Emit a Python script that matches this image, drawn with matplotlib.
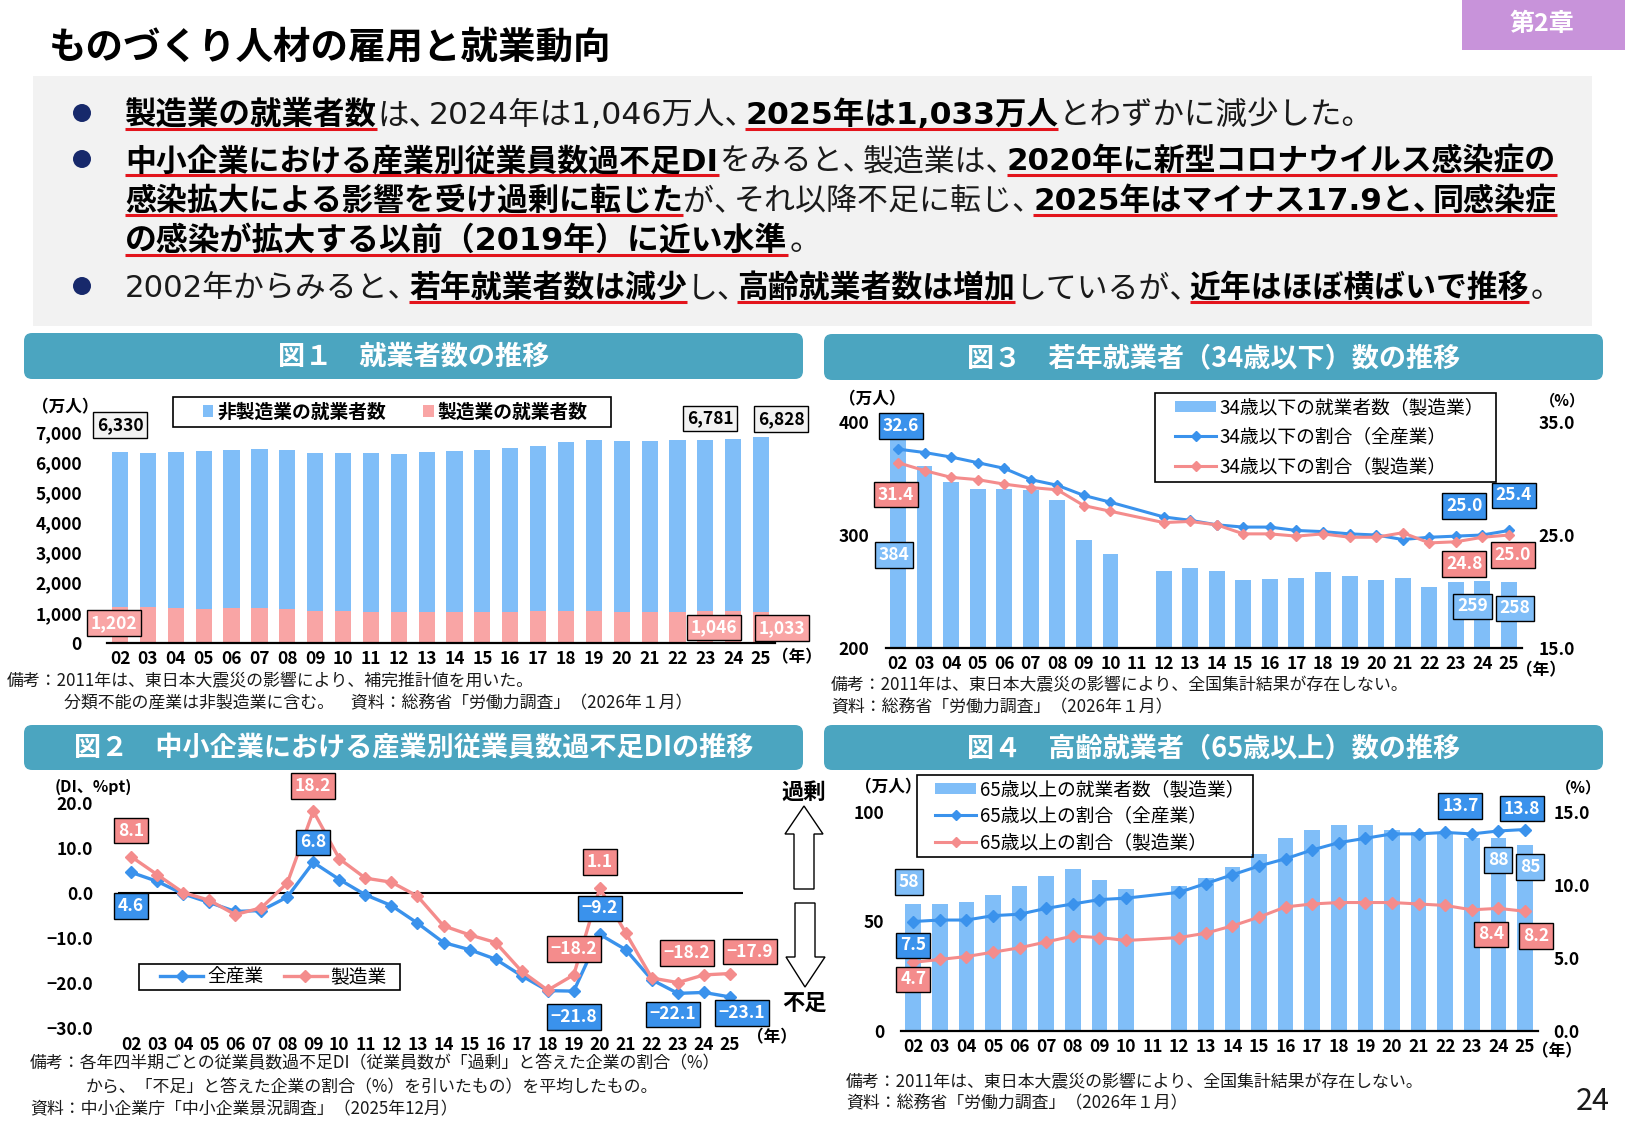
import matplotlib
matplotlib.use("Agg")
import matplotlib.pyplot as plt
import numpy as np
from matplotlib.patches import FancyBboxPatch, Rectangle, Polygon, Patch, Circle
from matplotlib.lines import Line2D
from matplotlib.transforms import IdentityTransform

plt.rcParams["font.family"] = ["Noto Sans CJK JP", "DejaVu Sans"]

W, H = 1625, 1125
DPI = 100
PX = IdentityTransform()

# colours
TEAL = "#4BA5C0"
PURPLE = "#C893DA"
PANEL_GREY = "#F2F2F2"
NAVY = "#17296B"
RED_LINE = "#E3141C"
BAR_BLUE = "#80BEF8"
BAR_PINK = "#F9A5A5"
LINE_BLUE = "#3A92EC"
LINE_PINK = "#F48C8C"
TXT = "#1A1A1A"

# ── data ──
YEARS = ["02", "03", "04", "05", "06", "07", "08", "09", "10", "11", "12", "13",
         "14", "15", "16", "17", "18", "19", "20", "21", "22", "23", "24", "25"]

# fig1: employed persons (万人)
TOTAL_EMP = [6330, 6316, 6329, 6356, 6389, 6427, 6409, 6314, 6298, 6293, 6280, 6326,
             6371, 6401, 6465, 6530, 6664, 6750, 6710, 6713, 6723, 6747, 6781, 6828]
MFG_EMP = [1202, 1178, 1150, 1142, 1161, 1165, 1144, 1073, 1049, 1037, 1032, 1039,
           1040, 1035, 1045, 1052, 1060, 1063, 1045, 1037, 1044, 1055, 1046, 1033]

# fig2: DI (%pt)
DI_ALL = [4.6, 2.6, -0.2, -2.1, -4.1, -3.9, -0.9, 6.8, 3.0, -0.4, -2.8, -6.7,
          -11.0, -12.6, -14.7, -18.4, -21.7, -21.8, -9.2, -12.6, -19.3, -22.3, -22.1, -23.1]
DI_MFG = [8.1, 4.1, 0.1, -1.6, -4.8, -3.3, 2.2, 18.2, 7.6, 3.3, 2.4, -0.7,
          -7.3, -9.3, -11.0, -17.4, -21.6, -18.2, 1.1, -8.9, -18.9, -19.9, -18.2, -17.9]

# fig3: under 34 (2011 missing)
YOUNG_MFG = [384, 361, 347, 341, 341, 340, 331, 296, 283, np.nan, 268, 271,
             268, 260, 261, 262, 267, 264, 260, 262, 254, 258, 259, 258]
YOUNG_SHARE_ALL = [32.6, 32.3, 31.9, 31.4, 30.9, 29.9, 29.4, 28.5, 27.9, np.nan, 26.6, 26.3,
                   25.9, 25.7, 25.7, 25.4, 25.3, 25.1, 25.0, 24.6, 24.8, 24.9, 25.0, 25.4]
YOUNG_SHARE_MFG = [31.4, 30.7, 30.1, 29.9, 29.5, 29.2, 29.0, 27.6, 27.1, np.nan, 26.1, 26.2,
                   25.9, 25.1, 25.1, 24.9, 25.1, 24.8, 24.8, 25.2, 24.3, 24.4, 24.8, 25.0]

# fig4: 65 and over (2011 missing)
OLD_MFG = [58, 58, 59, 62, 66, 71, 74, 69, 65, np.nan, 66, 70,
           75, 81, 88, 92, 94, 94, 92, 91, 90, 88, 88, 85]
OLD_SHARE_ALL = [7.5, 7.6, 7.6, 7.9, 8.0, 8.4, 8.7, 9.0, 9.1, np.nan, 9.5, 10.1,
                 10.7, 11.3, 11.8, 12.4, 12.9, 13.2, 13.5, 13.5, 13.6, 13.5, 13.7, 13.8]
OLD_SHARE_MFG = [4.7, 4.9, 5.1, 5.4, 5.7, 6.1, 6.5, 6.4, 6.2, np.nan, 6.4, 6.7,
                 7.2, 7.8, 8.5, 8.7, 8.8, 8.8, 8.8, 8.7, 8.6, 8.3, 8.4, 8.2]

# (baseline px, bullet?, right end px, segments (text, bold))
BULLETS = [
    (124, True, 1362, [("製造業の就業者数", 1), ("は、2024年は1,046万人、", 0),
                       ("2025年は1,033万人", 1), ("とわずかに減少した。", 0)]),
    (170, True, 1557, [("中小企業における産業別従業員数過不足DI", 1), ("をみると、製造業は、", 0),
                       ("2020年に新型コロナウイルス感染症の", 1)]),
    (210, False, 1557, [("感染拡大による影響を受け過剰に転じた", 1), ("が、それ以降不足に転じ、", 0),
                        ("2025年はマイナス17.9と、同感染症", 1)]),
    (250, False, 808, [("の感染が拡大する以前（2019年）に近い水準", 1), ("。", 0)]),
    (297, True, 1549, [("2002年からみると、", 0), ("若年就業者数は減少", 1), ("し、", 0),
                       ("高齢就業者数は増加", 1), ("しているが、", 0),
                       ("近年はほぼ横ばいで推移", 1), ("。", 0)]),
]

fig = plt.figure(figsize=(W / DPI, H / DPI), dpi=DPI)
fig.patch.set_facecolor("white")
renderer = fig.canvas.get_renderer()


def add_ax(x0, y0, x1, y1):
    return fig.add_axes([x0 / W, 1 - y1 / H, (x1 - x0) / W, (y1 - y0) / H])


def ftext(x, y, s, **kw):
    return fig.text(x / W, 1 - y / H, s, **kw)


def rect_px(x0, y0, x1, y1, **kw):
    fig.add_artist(Rectangle((x0, H - y1), x1 - x0, y1 - y0, transform=PX, **kw))


def header(x0, y0, x1, y1, title):
    fig.add_artist(FancyBboxPatch((x0, H - y1), x1 - x0, y1 - y0,
                                  boxstyle="round,pad=0,rounding_size=8",
                                  transform=PX, fc=TEAL, ec="none"))
    ftext((x0 + x1) / 2, (y0 + y1) / 2 + 1, title, ha="center", va="center",
          fontsize=19.5, fontweight="bold", color="white")


def vlabel(ax, i, v, s, dx, dy, fc, tc="white", src=None):
    # dx, dy: pixel offset of the box centre from the data point (dy downwards)
    ax.annotate(s, (i, v), xycoords=(src or ax).transData,
                xytext=(dx * 0.72, -dy * 0.72), textcoords="offset points",
                ha="center", va="center", fontsize=12.5, fontweight="bold", color=tc,
                bbox=dict(boxstyle="square,pad=0.22", fc=fc, ec="black", lw=1.0),
                zorder=20, annotation_clip=False)


def style_ax(ax, bottom=True):
    for sp in ["top", "right", "left"]:
        ax.spines[sp].set_visible(False)
    ax.spines["bottom"].set_visible(bottom)
    ax.spines["bottom"].set_color("black")
    ax.spines["bottom"].set_linewidth(1.6)
    ax.set_facecolor("none")


def tick_fmt(ax, xpad, ypad):
    ax.set_xticks(np.arange(len(YEARS)))
    ax.set_xticklabels(YEARS, fontsize=12.5, fontweight="bold")
    ax.tick_params(axis="x", length=0, pad=xpad)
    ax.tick_params(axis="y", length=0, pad=ypad, labelsize=12.5)
    for t in ax.get_yticklabels():
        t.set_fontweight("bold")


def boxed_legend(ax, handles, labels, box, x_left, y_mid, **kw):
    # frame drawn separately so its size can follow the reference box
    rect_px(*box, fc="none", ec="black", lw=1.2)
    leg = ax.legend(handles, labels, loc="center left",
                    bbox_to_anchor=(x_left / W, 1 - y_mid / H),
                    bbox_transform=fig.transFigure, frameon=False,
                    borderpad=0, borderaxespad=0, **kw)
    return leg


# ── page heading ──
ftext(49, 47, "ものづくり人材の雇用と就業動向", ha="left", va="center",
      fontsize=27, fontweight="bold", color="black")
rect_px(1462, 0, 1625, 50, fc=PURPLE, ec="none")
ftext(1542, 24, "第2章", ha="center", va="center", fontsize=18, fontweight="bold", color="white")

# ── summary panel ──
rect_px(33, 76, 1592, 326, fc=PANEL_GREY, ec="none")

BODY_FAMILY = ["DejaVu Sans", "Noto Sans CJK JP"]
FS_BODY = 23
EM0 = FS_BODY * DPI / 72
PUNCT = "、。"
PUNCT_ADV = 0.64
_w = {}


def text_w(s, bold):
    key = (s, bold)
    if key not in _w:
        t = fig.text(0, 0, s, fontsize=FS_BODY, fontweight="bold" if bold else "normal",
                     family=BODY_FAMILY)
        _w[key] = t.get_window_extent(renderer).width
        t.remove()
    return _w[key]


def split_runs(s):
    # each run keeps its trailing punctuation, which is set narrower than full width
    runs, cur = [], ""
    for c in s:
        cur += c
        if c in PUNCT:
            runs.append(cur)
            cur = ""
    if cur:
        runs.append(cur)
    return runs


def run_metrics(r, bold):
    # advance width and left side bearing of a run, found with "国" as a reference glyph
    core = r.rstrip(PUNCT)
    n_p = len(r) - len(core)
    if not core:
        return n_p * PUNCT_ADV * EM0, 0.05 * EM0
    g = text_w("国", bold)
    adv_g = text_w("国国", bold) - g
    l0 = (adv_g - g) / 2
    adv = text_w("国" + core + "国", bold) - text_w("国国", bold)
    rsb = adv_g + adv - l0 - text_w("国" + core, bold)
    lsb = adv - text_w(core, bold) - rsb
    return adv + n_p * PUNCT_ADV * EM0, lsb


for base, dot, right, segs in BULLETS:
    if dot:
        fig.add_artist(Circle((82, H - (base - 11)), 9, transform=PX, fc=NAVY, ec="none"))
    natural = sum(run_metrics(r, b)[0] for s, b in segs for r in split_runs(s))
    k = min(max((right - 125) / natural, 0.93), 1.05)
    fs = FS_BODY * k
    x = 125
    for s, bold in segs:
        x0 = x
        for r in split_runs(s):
            adv, lsb = run_metrics(r, bold)
            ftext(x + lsb * k, base, r, ha="left", va="baseline", fontsize=fs,
                  fontweight="bold" if bold else "normal", family=BODY_FAMILY,
                  color="black" if bold else TXT)
            x += adv * k
        if bold:
            uy = H - (base + 0.17 * EM0 * k)
            fig.add_artist(Line2D([x0, x], [uy, uy], transform=PX,
                                  color=RED_LINE, lw=2.2, solid_capstyle="butt"))

# ── panel headers ──
header(24, 333, 803, 379, "図１　就業者数の推移")
header(824, 334, 1603, 380, "図３　若年就業者（34歳以下）数の推移")
header(24, 725, 803, 770, "図２　中小企業における産業別従業員数過不足DIの推移")
header(824, 725, 1603, 770, "図４　高齢就業者（65歳以上）数の推移")

xs = np.arange(len(YEARS))

# ── Fig 1 ──
ax1 = add_ax(107, 432, 775, 643)
non_mfg = np.array(TOTAL_EMP) - np.array(MFG_EMP)
ax1.bar(xs, MFG_EMP, 0.58, color=BAR_PINK, zorder=2)
ax1.bar(xs, non_mfg, 0.58, bottom=MFG_EMP, color=BAR_BLUE, zorder=2)
ax1.set_xlim(-0.47, 23.5)
ax1.set_ylim(0, 7000)
yt = list(range(0, 7001, 1000))
ax1.set_yticks(yt)
ax1.set_yticklabels([f"{v:,}" for v in yt])
style_ax(ax1)
tick_fmt(ax1, 5, 18)
boxed_legend(ax1, [Patch(fc=BAR_BLUE), Patch(fc=BAR_PINK)],
             ["非製造業の就業者数", "製造業の就業者数"], (173, 397, 611, 427), 203, 412,
             ncol=2, handlelength=0.55, handleheight=0.55, handletextpad=0.2,
             columnspacing=2.0, prop={"weight": "bold", "size": 13.5})
vlabel(ax1, 0, TOTAL_EMP[0], f"{TOTAL_EMP[0]:,}", 0, -27, "#F2F2F2", "black")
vlabel(ax1, 22, TOTAL_EMP[22], f"{TOTAL_EMP[22]:,}", -23, -20, "#F2F2F2", "black")
vlabel(ax1, 23, TOTAL_EMP[23], f"{TOTAL_EMP[23]:,}", 20, -18, "#F2F2F2", "black")
vlabel(ax1, 0, MFG_EMP[0], f"{MFG_EMP[0]:,}", -6, 16, BAR_PINK)
vlabel(ax1, 22, MFG_EMP[22], f"{MFG_EMP[22]:,}", -19, 16, BAR_PINK)
vlabel(ax1, 23, MFG_EMP[23], f"{MFG_EMP[23]:,}", 21, 16, BAR_PINK)
ftext(65, 407, "（万人）", ha="center", va="center", fontsize=12, fontweight="bold")
ftext(797, 657, "（年）", ha="center", va="center", fontsize=12, fontweight="bold")
ftext(7, 681, "備考：2011年は、東日本大震災の影響により、補完推計値を用いた。",
      ha="left", va="center", fontsize=12.2, color=TXT)
ftext(64, 703, "分類不能の産業は非製造業に含む。　資料：総務省「労働力調査」（2026年１月）",
      ha="left", va="center", fontsize=12.2, color=TXT)

# ── Fig 3 ──
ax3 = add_ax(886, 422, 1522, 648)
y_m = np.array(YOUNG_MFG)
ok = ~np.isnan(y_m)
ax3.bar(xs[ok], y_m[ok], 0.6, color=BAR_BLUE, zorder=2)
ax3.set_xlim(-0.45, 23.49)
ax3.set_ylim(200, 400)
ax3.set_yticks([200, 300, 400])
style_ax(ax3)
tick_fmt(ax3, 5, 12)
ax3b = ax3.twinx()
for sp in ax3b.spines.values():
    sp.set_visible(False)
ax3b.set_ylim(15, 35)
ax3b.set_yticks([15, 25, 35])
ax3b.set_yticklabels(["15.0", "25.0", "35.0"], fontsize=12.5, fontweight="bold")
ax3b.tick_params(axis="y", length=0, pad=12)
for arr, col in [(YOUNG_SHARE_ALL, LINE_BLUE), (YOUNG_SHARE_MFG, LINE_PINK)]:
    a = np.array(arr)
    m = ~np.isnan(a)
    ax3b.plot(xs[m], a[m], color=col, lw=2.2, marker="D", ms=5.5, zorder=5)
boxed_legend(ax3b, [Patch(fc=BAR_BLUE),
                    Line2D([], [], color=LINE_BLUE, lw=2.2, marker="D", ms=5.5),
                    Line2D([], [], color=LINE_PINK, lw=2.2, marker="D", ms=5.5)],
             ["34歳以下の就業者数（製造業）", "34歳以下の割合（全産業）", "34歳以下の割合（製造業）"],
             (1155, 393, 1496, 482), 1175, 437,
             handlelength=2.2, handleheight=0.55, handletextpad=0.15,
             labelspacing=0.45, prop={"size": 13.5})
vlabel(ax3b, 0, YOUNG_SHARE_ALL[0], f"{YOUNG_SHARE_ALL[0]:.1f}", 3, -23, LINE_BLUE)
vlabel(ax3b, 0, YOUNG_SHARE_MFG[0], f"{YOUNG_SHARE_MFG[0]:.1f}", -2, 32, LINE_PINK)
vlabel(ax3b, 0, YOUNG_MFG[0], f"{YOUNG_MFG[0]:.0f}", -4, 115, BAR_BLUE, src=ax3)
vlabel(ax3b, 22, YOUNG_SHARE_ALL[22], f"{YOUNG_SHARE_ALL[22]:.1f}", -18, -29, LINE_BLUE)
vlabel(ax3b, 23, YOUNG_SHARE_ALL[23], f"{YOUNG_SHARE_ALL[23]:.1f}", 5, -35, LINE_BLUE)
vlabel(ax3b, 22, YOUNG_SHARE_MFG[22], f"{YOUNG_SHARE_MFG[22]:.1f}", -18, 27, LINE_PINK)
vlabel(ax3b, 23, YOUNG_SHARE_MFG[23], f"{YOUNG_SHARE_MFG[23]:.1f}", 4, 20, LINE_PINK)
vlabel(ax3b, 22, YOUNG_MFG[22], f"{YOUNG_MFG[22]:.0f}", -10, 25, BAR_BLUE, src=ax3)
vlabel(ax3b, 23, YOUNG_MFG[23], f"{YOUNG_MFG[23]:.0f}", 6, 26, BAR_BLUE, src=ax3)
ftext(872, 399, "（万人）", ha="center", va="center", fontsize=12, fontweight="bold")
ftext(1563, 400, "（%）", ha="center", va="center", fontsize=11, fontweight="bold")
ftext(1541, 670, "（年）", ha="center", va="center", fontsize=12, fontweight="bold")
ftext(831, 685, "備考：2011年は、東日本大震災の影響により、全国集計結果が存在しない。",
      ha="left", va="center", fontsize=12.2, color=TXT)
ftext(831, 707, "資料：総務省「労働力調査」（2026年１月）",
      ha="left", va="center", fontsize=12.2, color=TXT)

# ── Fig 2 ──
ax2 = add_ax(118, 803, 743, 1028)
ax2.set_xlim(-0.5, 23.5)
ax2.set_ylim(-30, 20)
ax2.set_yticks([-30, -20, -10, 0, 10, 20])
ax2.set_yticklabels([f"{v:.1f}".replace("-", "\u2212") for v in [-30, -20, -10, 0, 10, 20]])
style_ax(ax2, bottom=False)
tick_fmt(ax2, 6, 18)
ax2.axhline(0, color="black", lw=1.5, zorder=1)
ax2.plot(xs, DI_ALL, color=LINE_BLUE, lw=2.4, marker="D", ms=6.5, zorder=3)
ax2.plot(xs, DI_MFG, color=LINE_PINK, lw=2.4, marker="D", ms=6.0, zorder=4)
boxed_legend(ax2, [Line2D([], [], color=LINE_BLUE, lw=2.4, marker="D", ms=6.5),
                   Line2D([], [], color=LINE_PINK, lw=2.4, marker="D", ms=6.0)],
             ["全産業", "製造業"], (139, 964, 400, 990), 160, 977,
             ncol=2, handlelength=2.3, handletextpad=0.2, columnspacing=1.1,
             prop={"size": 13.5})
di_lab = lambda v: f"{v:.1f}".replace("-", "\u2212")
vlabel(ax2, 0, DI_MFG[0], di_lab(DI_MFG[0]), 0, -26, LINE_PINK)
vlabel(ax2, 0, DI_ALL[0], di_lab(DI_ALL[0]), 0, 34, LINE_BLUE)
vlabel(ax2, 7, DI_MFG[7], di_lab(DI_MFG[7]), 0, -25, LINE_PINK)
vlabel(ax2, 7, DI_ALL[7], di_lab(DI_ALL[7]), 0, -20, LINE_BLUE)
vlabel(ax2, 18, DI_MFG[18], di_lab(DI_MFG[18]), 0, -26, LINE_PINK)
vlabel(ax2, 18, DI_ALL[18], di_lab(DI_ALL[18]), 0, -26, LINE_BLUE)
vlabel(ax2, 17, DI_MFG[17], di_lab(DI_MFG[17]), 0, -26, LINE_PINK)
vlabel(ax2, 17, DI_ALL[17], di_lab(DI_ALL[17]), 0, 26, LINE_BLUE)
vlabel(ax2, 22, DI_MFG[22], di_lab(DI_MFG[22]), -17, -22, LINE_PINK)
vlabel(ax2, 23, DI_MFG[23], di_lab(DI_MFG[23]), 20, -22, LINE_PINK)
vlabel(ax2, 22, DI_ALL[22], di_lab(DI_ALL[22]), -31, 22, LINE_BLUE)
vlabel(ax2, 23, DI_ALL[23], di_lab(DI_ALL[23]), 12, 16, LINE_BLUE)
ftext(55, 787, "(DI、%pt)", ha="left", va="center", fontsize=11.5, fontweight="bold")
ftext(772, 1037, "（年）", ha="center", va="center", fontsize=12, fontweight="bold")
# surplus / shortage arrows
up = [(804, 806), (823, 834), (814, 834), (814, 889), (794, 889), (794, 834), (785, 834)]
dn = [(795, 903), (815, 903), (815, 957), (825, 957), (805, 987), (786, 957), (795, 957)]
for pts in (up, dn):
    fig.add_artist(Polygon([(px, H - py) for px, py in pts], closed=True, transform=PX,
                           fc="white", ec="black", lw=1.0))
ftext(804, 792, "過剰", ha="center", va="center", fontsize=16, fontweight="bold")
ftext(804, 1003, "不足", ha="center", va="center", fontsize=16, fontweight="bold")
ftext(30, 1063, "備考：各年四半期ごとの従業員数過不足DI（従業員数が「過剰」と答えた企業の割合（%）",
      ha="left", va="center", fontsize=12.2, color=TXT)
ftext(86, 1087, "から、「不足」と答えた企業の割合（%）を引いたもの）を平均したもの。",
      ha="left", va="center", fontsize=12.2, color=TXT)
ftext(30, 1109, "資料：中小企業庁「中小企業景況調査」（2025年12月）",
      ha="left", va="center", fontsize=12.2, color=TXT)

# ── Fig 4 ──
ax4 = add_ax(901, 812, 1538, 1031)
o_m = np.array(OLD_MFG)
ok = ~np.isnan(o_m)
ax4.bar(xs[ok], o_m[ok], 0.59, color=BAR_BLUE, zorder=2)
ax4.set_xlim(-0.46, 23.49)
ax4.set_ylim(0, 100)
ax4.set_yticks([0, 50, 100])
style_ax(ax4)
tick_fmt(ax4, 5, 12)
ax4b = ax4.twinx()
for sp in ax4b.spines.values():
    sp.set_visible(False)
ax4b.set_ylim(0, 15)
ax4b.set_yticks([0, 5, 10, 15])
ax4b.set_yticklabels(["0.0", "5.0", "10.0", "15.0"], fontsize=12.5, fontweight="bold")
ax4b.tick_params(axis="y", length=0, pad=11)
for arr, col in [(OLD_SHARE_ALL, LINE_BLUE), (OLD_SHARE_MFG, LINE_PINK)]:
    a = np.array(arr)
    m = ~np.isnan(a)
    ax4b.plot(xs[m], a[m], color=col, lw=2.2, marker="D", ms=6, zorder=5)
boxed_legend(ax4b, [Patch(fc=BAR_BLUE),
                    Line2D([], [], color=LINE_BLUE, lw=2.2, marker="D", ms=5.5),
                    Line2D([], [], color=LINE_PINK, lw=2.2, marker="D", ms=5.5)],
             ["65歳以上の就業者数（製造業）", "65歳以上の割合（全産業）", "65歳以上の割合（製造業）"],
             (917, 775, 1253, 857), 935, 816,
             handlelength=2.2, handleheight=0.55, handletextpad=0.2,
             labelspacing=0.3, prop={"size": 13.5})
vlabel(ax4b, 0, OLD_MFG[0], f"{OLD_MFG[0]:.0f}", -4, -22, BAR_BLUE, src=ax4)
vlabel(ax4b, 0, OLD_SHARE_ALL[0], f"{OLD_SHARE_ALL[0]:.1f}", 0, 24, LINE_BLUE)
vlabel(ax4b, 0, OLD_SHARE_MFG[0], f"{OLD_SHARE_MFG[0]:.1f}", 0, 17, LINE_PINK)
vlabel(ax4b, 22, OLD_SHARE_ALL[22], f"{OLD_SHARE_ALL[22]:.1f}", -38, -25, LINE_BLUE)
vlabel(ax4b, 23, OLD_SHARE_ALL[23], f"{OLD_SHARE_ALL[23]:.1f}", -3, -21, LINE_BLUE)
vlabel(ax4b, 22, OLD_MFG[22], f"{OLD_MFG[22]:.0f}", 0, 22, BAR_BLUE, src=ax4)
vlabel(ax4b, 23, OLD_MFG[23], f"{OLD_MFG[23]:.0f}", 5, 22, BAR_BLUE, src=ax4)
vlabel(ax4b, 22, OLD_SHARE_MFG[22], f"{OLD_SHARE_MFG[22]:.1f}", -7, 26, LINE_PINK)
vlabel(ax4b, 23, OLD_SHARE_MFG[23], f"{OLD_SHARE_MFG[23]:.1f}", 11, 25, LINE_PINK)
ftext(888, 787, "（万人）", ha="center", va="center", fontsize=12, fontweight="bold")
ftext(1578, 787, "（%）", ha="center", va="center", fontsize=11, fontweight="bold")
ftext(1557, 1051, "（年）", ha="center", va="center", fontsize=12, fontweight="bold")
ftext(846, 1082, "備考：2011年は、東日本大震災の影響により、全国集計結果が存在しない。",
      ha="left", va="center", fontsize=12.2, color=TXT)
ftext(846, 1103, "資料：総務省「労働力調査」（2026年１月）",
      ha="left", va="center", fontsize=12.2, color=TXT)

ftext(1593, 1101, "24", ha="center", va="center", fontsize=22, color=TXT)

fig.savefig("out.png", dpi=DPI, facecolor="white")
